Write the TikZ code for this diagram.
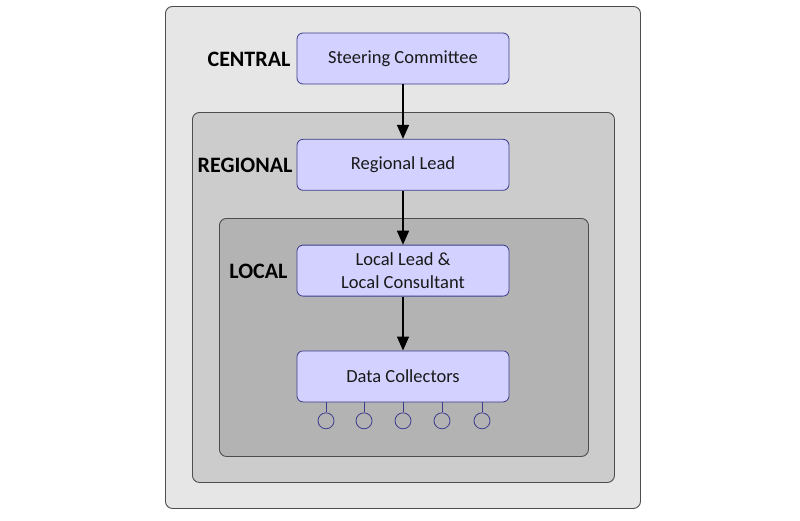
\documentclass[tikz,border=0pt]{standalone}
\usepackage{fontspec}
\setmainfont{Carlito}
\usetikzlibrary{arrows.meta,positioning,backgrounds}
\definecolor{lvCentral}{HTML}{E6E6E6}
\definecolor{lvRegional}{HTML}{CCCCCC}
\definecolor{lvLocal}{HTML}{B3B3B3}
\definecolor{lvEdge}{HTML}{4D4D4D}
\definecolor{roleFill}{HTML}{D3D1FF}
\definecolor{roleEdge}{HTML}{3C3C8E}
\tikzset{
  % Nested level panel
  lvlpanel/.style={rectangle,rounded corners=7pt,anchor=north west,
    inner sep=0pt,draw=lvEdge,line width=0.9pt},
  % Role box (lavender)
  rolebox/.style={rectangle,rounded corners=6pt,
    minimum width=212pt,minimum height=51pt,
    align=center,draw=roleEdge,fill=roleFill,line width=0.8pt,
    font=\fontsize{18.5}{23.5}\selectfont,text=black!90},
  % Level label
  lvllbl/.style={anchor=east,inner sep=0pt,font=\fontsize{22}{24}\selectfont\bfseries},
  % Collector circle
  collector/.style={circle,minimum size=16pt,inner sep=0pt,
    draw=roleEdge,line width=0.8pt},
  % Arrows
  arr/.style={-{Triangle[length=14pt,width=12pt]},line width=1.5pt},
}
\begin{document}
\begin{tikzpicture}[x=1pt,y=-1pt]
  \useasboundingbox (0,0) rectangle (800,520);
  % Level panels
  \node[lvlpanel,fill=lvCentral,minimum width=475pt,minimum height=502pt] (central) at (165,6) {};
  \node[lvlpanel,fill=lvRegional,minimum width=422pt,minimum height=370pt] (regional) at (192,112) {};
  \node[lvlpanel,fill=lvLocal,minimum width=369pt,minimum height=238pt] (local) at (219,218) {};

  % Roles
  \node[rolebox] (steer) at (403,58.5) {Steering Committee};
  \node[rolebox,below=54.5pt of steer] (reglead) {Regional Lead};
  \node[rolebox,below=54pt of reglead] (loclead) {Local Lead \&\\Local Consultant};
  \node[rolebox,below=54pt of loclead] (coll) {Data Collectors};

  % Level labels
  \node[lvllbl] (centralLbl) at ([xshift=-6pt,yshift=-1pt]steer.west) {CENTRAL};
  \node[lvllbl] (regionalLbl) at ([xshift=-4pt,yshift=-1pt]reglead.west) {REGIONAL};
  \node[lvllbl] (localLbl) at ([xshift=-9pt,yshift=-1pt]loclead.west) {LOCAL};

  \draw[arr] (steer) -- (reglead);
  \draw[arr] (reglead) -- (loclead);
  \draw[arr] (loclead) -- (coll);

  % Collectors
  \foreach \dx [count=\i] in {-77,-39,0,39,79} {
    \node[collector] (dc\i) at ([xshift=\dx pt,yshift=-18.5pt]coll.south) {};
    \draw[roleEdge,line width=0.8pt] (coll.south -| dc\i) -- (dc\i.north);
  }
\end{tikzpicture}
\end{document}
